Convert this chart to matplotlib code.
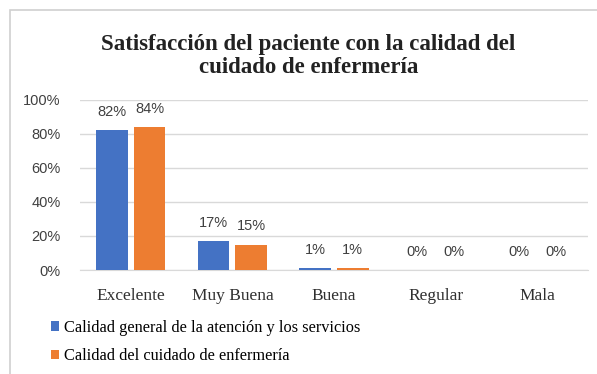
import matplotlib.pyplot as plt
import numpy as np
from matplotlib.patches import Rectangle

categorias = ['Excelente', 'Muy Buena', 'Buena', 'Regular', 'Mala']
atencion = [82, 17, 1, 0, 0]
enfermeria = [84, 15, 1, 0, 0]
series = ['Calidad general de la atención y los servicios',
          'Calidad del cuidado de enfermería']

azul = '#4472C4'
naranja = '#ED7D31'

fig = plt.figure(figsize=(5.97, 3.74), dpi=100)
ax = fig.add_axes([0.134, 0.278, 0.851, 0.455])

# marco gris del grafico
fig.patches.append(Rectangle((0.017, -0.02), 1.0, 0.993, transform=fig.transFigure,
                             fill=False, edgecolor='#d0d0d0', linewidth=1.2))

x = np.arange(len(categorias))
w = 0.31
b1 = ax.bar(x - 0.185, atencion, w, color=azul, label=series[0], zorder=3)
b2 = ax.bar(x + 0.185, enfermeria, w, color=naranja, label=series[1], zorder=3)

for bars in (b1, b2):
    for r in bars:
        v = r.get_height()
        ax.text(r.get_x() + r.get_width() / 2, v + 6.5, f'{v:.0f}%', ha='center', va='bottom',
                fontsize=10.5, color='#404040', family='Liberation Sans')

ax.set_ylim(0, 100)
ax.set_xlim(-0.5, len(categorias) - 0.5)
ax.set_yticks([0, 20, 40, 60, 80, 100])
ax.set_yticklabels([f'{t}%' for t in [0, 20, 40, 60, 80, 100]], family='Liberation Sans',
                   fontsize=10.5, color='#404040')
ax.set_xticks(x)
ax.set_xticklabels(categorias, family='Liberation Serif', fontsize=12.5, color='#303030')
ax.tick_params(axis='x', length=0, pad=13)
ax.tick_params(axis='y', length=0, pad=14)
ax.grid(axis='y', color='#d9d9d9', linewidth=1, zorder=0)
for s in ['top', 'right', 'left']:
    ax.spines[s].set_visible(False)
ax.spines['bottom'].set_color('#d9d9d9')

fig.suptitle('Satisfacción del paciente con la calidad del\ncuidado de enfermería',
             x=0.517, y=0.91, fontsize=16.5, fontweight='bold', family='Liberation Serif',
             color='#222222', linespacing=1.15)

ax.legend(loc='upper left', bbox_to_anchor=(-0.07, -0.255), frameon=False, ncol=1,
          prop={'family': 'Liberation Serif', 'size': 11.8}, handlelength=0.5, handleheight=0.5,
          handletextpad=0.3, labelspacing=0.75, borderaxespad=0)

fig.savefig('out.png', dpi=100)
